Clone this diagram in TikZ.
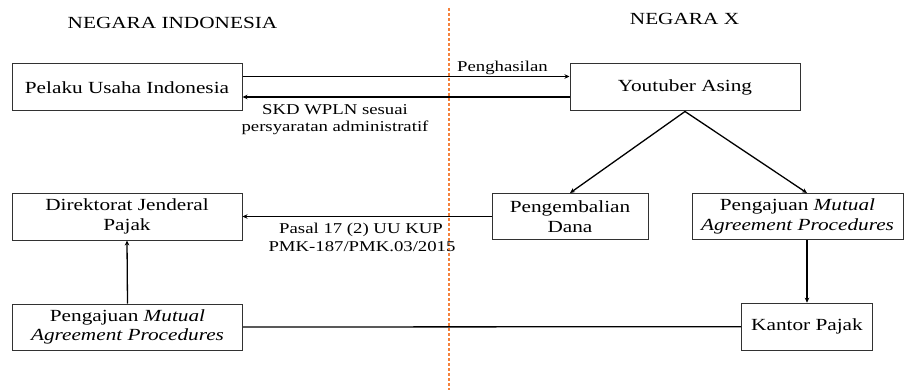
\documentclass[tikz,border=0pt]{standalone}
\usepackage{fontspec}
\setmainfont{Liberation Serif}[FakeStretch=1.25]
\usetikzlibrary{arrows.meta}
\definecolor{dashorange}{RGB}{245,130,60}
\definecolor{boxline}{RGB}{50,50,50}
\tikzset{
  box/.style={draw=boxline, line width=1pt, rectangle, inner sep=0pt, align=center,
    font=\fontsize{17}{19.5}\selectfont},
  lbl/.style={inner sep=0pt, anchor=base, font=\fontsize{15}{17}\selectfont},
  hdr/.style={inner sep=0pt, anchor=base, font=\fontsize{17}{19.5}\selectfont},
  conn/.style={line width=1.3pt, black},
  arr/.style={conn, -{Stealth[length=5pt,width=4.5pt]}},
}
\begin{document}
\begin{tikzpicture}[x=1pt,y=-1pt]
\useasboundingbox (0,0) rectangle (909,390);
% divider
\coordinate (dtop) at (449,8);
\coordinate (dbot) at (449,390);
\draw[dashorange, line width=1.2pt, dash pattern=on 3pt off 2pt] (dtop) -- (dbot);
% headers
\node[hdr] (h1) at (172.5,28.5) {NEGARA INDONESIA};
\node[hdr] (h2) at (684.5,25) {NEGARA X};
% boxes
\node[box, minimum width=230pt, minimum height=47pt] (pelaku) at (127,87.5) {Pelaku Usaha Indonesia};
\node[box, minimum width=230pt, minimum height=47pt] (yt) at (685,87.5) {Youtuber Asing};
\node[box, minimum width=230pt, minimum height=47pt] (djp) at (127,216.5) {Direktorat Jenderal\\Pajak};
\node[box, minimum width=156pt, minimum height=46pt] (dana) at (570,216.5) {Pengembalian\\Dana};
\node[box, minimum width=211pt, minimum height=46pt] (mapr) at (797.5,216.5) {Pengajuan \textit{Mutual}\\\textit{Agreement Procedures}};
\node[box, minimum width=131pt, minimum height=47pt] (kantor) at (807,326.7) {Kantor Pajak};
\node[box, minimum width=230pt, minimum height=46pt] (mapl) at (127.5,327) {Pengajuan \textit{Mutual}\\\textit{Agreement Procedures}};
% connectors
\draw[arr] ([yshift=11pt]pelaku.east) -- ([yshift=11pt]yt.west);
\draw[arr] ([yshift=-9.5pt]yt.west) -- ([yshift=-9.5pt]pelaku.east);
\draw[arr] (yt.south) -- (dana.north);
\draw[arr] (yt.south) -- (mapr.north -| kantor.north);
\draw[arr] (dana.west) -- (djp.east);
\draw[arr] (mapl.north) -- (djp.south);
\draw[arr] (mapr.south -| kantor.north) -- (kantor.north);
\draw[conn] (mapl.east) -- (kantor.west);
% labels
\node[lbl] (l1) at (502.5,72) {Penghasilan};
\node[lbl] (l2) at (335,114.5) {SKD WPLN sesuai};
\node[lbl] (l3) at (335,131.5) {persyaratan administratif};
\node[lbl] (l4) at (361,233) {Pasal 17 (2) UU KUP};
\node[lbl] (l5) at (362,251.5) {PMK-187/PMK.03/2015};
\end{tikzpicture}
\end{document}
